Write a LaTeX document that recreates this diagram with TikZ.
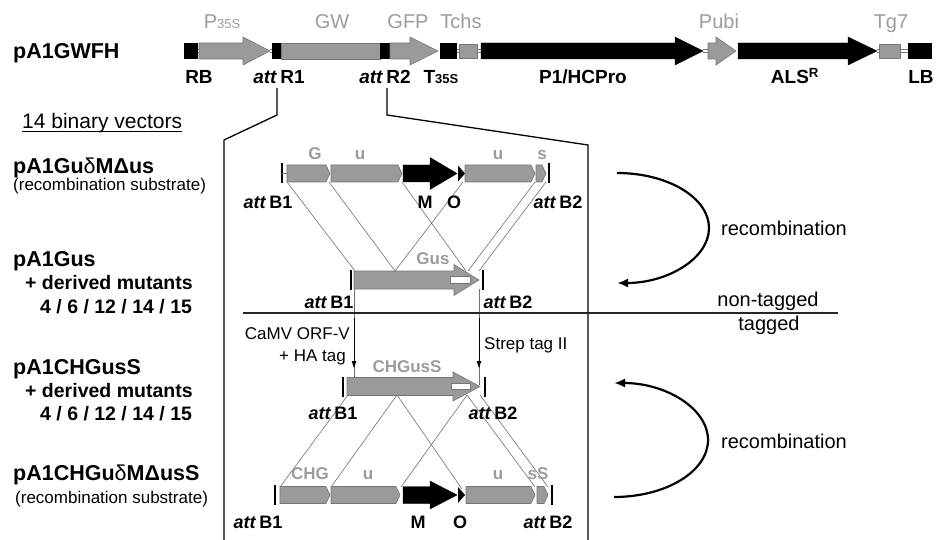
\documentclass[tikz,border=0pt]{standalone}
\usepackage{fontspec}
\setmainfont{Liberation Sans}
\usetikzlibrary{arrows.meta}
\definecolor{bargray}{HTML}{9A9A9A}
\definecolor{barline}{HTML}{767676}
\definecolor{lblgray}{HTML}{9C9C9C}
\definecolor{linegray}{HTML}{707070}
\newcommand{\fName}{\fontsize{21.5}{24}\selectfont\bfseries}
\newcommand{\fSub}{\fontsize{19.5}{22}\selectfont\bfseries}
\newcommand{\fParen}{\fontsize{17}{20}\selectfont}
\newcommand{\fTopG}{\fontsize{20}{22}\selectfont}
\newcommand{\fTopB}{\fontsize{19}{21}\selectfont\bfseries}
\newcommand{\fAtt}{\fontsize{18}{20}\selectfont\bfseries}
\newcommand{\fSegL}{\fontsize{17}{20}\selectfont\bfseries}
\newcommand{\fCap}{\fontsize{17}{20}\selectfont}
\newcommand{\fRight}{\fontsize{20}{22}\selectfont}
\newcommand{\attx}{\textit{att}\,}
\newcommand{\smallnum}[1]{{\fontsize{13}{14}\selectfont #1}}
% arrow-shaped feature: style, x1, xhead, xtip, yc, body half, head half
\newcommand{\shaft}[7]{\filldraw[#1] ({#2},{#5-#6}) -- ({#3},{#5-#6}) -- ({#3},{#5-#7}) -- ({#4},{#5}) -- ({#3},{#5+#7}) -- ({#3},{#5+#6}) -- ({#2},{#5+#6}) -- cycle;}
% segment with pointed right end: x1, x2, yc
\newcommand{\gseg}[3]{\filldraw[seg] ({#1},{#3-8.5}) -- ({#2-4},{#3-8.5}) -- ({#2},{#3}) -- ({#2-4},{#3+8.5}) -- ({#1},{#3+8.5}) -- cycle;}
% marker bar: x, yc
\newcommand{\mkr}[2]{\draw[mk] ({#1},{#2-10}) -- ({#1},{#2+10});}
% small black triangle: x, yc
\newcommand{\otri}[2]{\fill[black] ({#1},{#2-8}) -- ({#1+7},{#2}) -- ({#1},{#2+8}) -- cycle;}
% double thin link in top bar: x1, x2
\newcommand{\lnk}[2]{\draw[barline,line width=0.5pt] ({#1},49.5) -- ({#2},49.5) ({#1},52.5) -- ({#2},52.5);}
\begin{document}
\begin{tikzpicture}[x=1pt,y=-1pt,
  seg/.style={fill=bargray,draw=barline,line width=0.6pt},
  blk/.style={fill=black,draw=black,line width=0.4pt},
  mk/.style={line width=2pt,black},
  xline/.style={draw=linegray,line width=0.6pt},
  brk/.style={line width=1.3pt,black},
  recarc/.style={line width=2.2pt,black,-{Latex[length=11pt,width=9pt]}},
  tagarr/.style={line width=1pt,black,-{Latex[length=8pt,width=5pt]}},
  tg/.style={inner sep=0pt,anchor=base,font=\fTopG,text=lblgray},
  tb/.style={inner sep=0pt,anchor=base,font=\fTopB},
  nm/.style={inner sep=0pt,anchor=base west,font=\fName},
  sb/.style={inner sep=0pt,anchor=base west,font=\fSub},
  pr/.style={inner sep=0pt,anchor=base west,font=\fParen},
  attl/.style={inner sep=0pt,anchor=base,font=\fAtt},
  sl/.style={inner sep=0pt,anchor=base,font=\fSegL,text=lblgray},
  cp/.style={inner sep=0pt,font=\fCap},
  rt/.style={inner sep=0pt,anchor=base,font=\fRight}]
\useasboundingbox (0,0) rectangle (937,540);

% ---------------- top construct ----------------
\fill[black] (184,43) rectangle (198,59);
\lnk{198}{200}
\shaft{seg}{199}{243}{270}{51}{8}{14}
\lnk{270}{272}
\fill[black] (272,43) rectangle (281,59);
\filldraw[seg] (281,43) rectangle (380,59);
\fill[black] (380,43) rectangle (390,59);
\shaft{seg}{390}{410}{438}{51}{8}{14}
\fill[black] (440,43) rectangle (457,59);
\lnk{457}{459}
\filldraw[seg] (459,44) rectangle (477,58);
\lnk{477}{481}
\shaft{blk}{481}{675}{703}{51}{8}{14}
\lnk{703}{708}
\shaft{seg}{708}{716}{736}{51}{8}{14}
\shaft{blk}{738}{848}{877}{51}{8}{14}
\lnk{877}{879}
\filldraw[seg] (879,44) rectangle (900,58);
\lnk{900}{908}
\fill[black] (908,43) rectangle (932,59);

\node[tg] (tP) at (222,29) {P\smallnum{35S}};
\node[tg] (tGW) at (332,29) {GW};
\node[tg] (tGFP) at (408,29) {GFP};
\node[tg] (tT) at (461,29) {Tchs};
\node[tg] (tPu) at (719,29) {Pubi};
\node[tg] (tTg) at (891,29) {Tg7};

\node[tb] (bRB) at (199,84) {RB};
\node[tb] (bR1) at (279,84) {\attx R1};
\node[tb] (bR2) at (385,84) {\attx R2};
\node[tb] (bT) at (441,84) {T\smallnum{35S}};
\node[tb] (bP1) at (583,84) {P1/HCPro};
\node[tb] (bALS) at (795,84) {ALS\textsuperscript{R}};
\node[tb] (bLB) at (921,84) {LB};

\node[nm] (nTop) at (13,59) {pA1GWFH};

% bracket
\coordinate (bl1) at (277,88); \coordinate (bl2) at (277,115);
\coordinate (bl3) at (224,140); \coordinate (bl4) at (224,540);
\coordinate (br1) at (387,88); \coordinate (br2) at (387,115);
\coordinate (br3) at (588,145); \coordinate (br4) at (588,540);
\draw[brk] (bl1) -- (bl2) -- (bl3) -- (bl4);
\draw[brk] (br1) -- (br2) -- (br3) -- (br4);

% ---------------- left labels ----------------
\node[inner sep=0pt,anchor=base west,font=\fontsize{21}{24}\selectfont] (n14) at (22,128.5) {14 binary vectors};
\draw[line width=1pt] ([yshift=-3.5pt]n14.base west) -- ([yshift=-3.5pt]n14.base east);
\node[nm] (v1) at (13,173.5) {pA1Gu{\mdseries δ}MΔus};
\node[pr] (v1s) at (13,191) {(recombination substrate)};
\node[nm] (v2) at (13,266.5) {pA1Gus};
\node[sb] (v2a) at (25,289) {+ derived mutants};
\node[sb] (v2b) at (40,313.5) {4 / 6 / 12 / 14 / 15};
\node[nm] (v3) at (13,374.5) {pA1CHGusS};
\node[sb] (v3a) at (25,397) {+ derived mutants};
\node[sb] (v3b) at (40,420.5) {4 / 6 / 12 / 14 / 15};
\node[nm] (v4) at (13,480.5) {pA1CHGu{\mdseries δ}MΔusS};
\node[pr] (v4s) at (15,503) {(recombination substrate)};

% ---------------- crossing lines ----------------
\coordinate (p1) at (287,182); \coordinate (p2) at (329,182);
\coordinate (p3) at (402,182); \coordinate (p4) at (463,182);
\coordinate (p5) at (535,182); \coordinate (p6) at (546,182);
\coordinate (q1) at (355,271); \coordinate (q2) at (395,271);
\coordinate (q3) at (466,271); \coordinate (q5) at (468,271);
\coordinate (q6) at (479,271);
\draw[xline] (p1) -- (q1) (p2) -- (q2) (p3) -- (q3) (p4) -- (q2) (p5) -- (q5) (p6) -- (q6);

\coordinate (c1) at (348,395); \coordinate (c2) at (397,395);
\coordinate (c3) at (467,395); \coordinate (c4) at (480,395);
\coordinate (d1) at (280,487); \coordinate (d2) at (331,487);
\coordinate (d3) at (462,489); \coordinate (d4) at (401,487);
\coordinate (d5) at (535,487); \coordinate (d6) at (548,487);
\draw[xline] (c1) -- (d1) (c2) -- (d2) (c2) -- (d3) (c3) -- (d4) (c3) -- (d5) (c4) -- (d6);

% verticals Gus -> CHGusS
\coordinate (g1) at (354,289); \coordinate (g2) at (354,318); \coordinate (g3) at (354,369);
\coordinate (g4) at (354,377);
\coordinate (h1) at (479,289); \coordinate (h2) at (479,318); \coordinate (h3) at (479,369);
\coordinate (h4) at (479,385);
\draw[xline] (g1) -- (g4) (h1) -- (h4);
\draw[tagarr] (g2) -- (g3);
\draw[tagarr] (h2) -- (h3);

% ---------------- row 1 ----------------
\mkr{282}{173.5}
\draw[xline] (282,173.5) -- (287,173.5);
\gseg{287}{330}{173.5}
\gseg{331}{402}{173.5}
\shaft{blk}{403}{430}{457}{173.5}{8.5}{16}
\otri{458}{173.5}
\gseg{465}{535}{173.5}
\gseg{536}{546}{173.5}
\mkr{549}{173.5}
\node[sl] (r1G) at (315,159.5) {G};
\node[sl] (r1u) at (360,159.5) {u};
\node[sl] (r1u2) at (498,159.5) {u};
\node[sl] (r1s) at (542,159.5) {s};
\node[attl] (r1b1) at (268,208.5) {\attx B1};
\node[attl] (r1M) at (425,208.5) {M};
\node[attl] (r1O) at (454,208.5) {O};
\node[attl] (r1b2) at (558,208.5) {\attx B2};

% ---------------- row 2 (Gus) ----------------
\mkr{351}{280}
\shaft{seg}{354}{454}{479}{280}{9}{15.5}
\filldraw[fill=white,draw=barline,line width=0.5pt] (450,276.5) rectangle (470,283);
\mkr{483}{280}
\node[sl] (r2l) at (433,264) {Gus};
\node[attl] (r2b1) at (329,308.5) {\attx B1};
\node[attl] (r2b2) at (508,308.5) {\attx B2};

% separator
\coordinate (s1) at (243,313); \coordinate (s2) at (838,313);
\draw[line width=1.1pt,black!85] (s1) -- (s2);
\node[rt] (nt) at (768,306.5) {non-tagged};
\node[rt] (tt) at (769,330.5) {tagged};

\node[cp,anchor=base east] (cam1) at (350,339) {CaMV ORF-V};
\node[cp,anchor=base east] (cam2) at (346,361) {+ HA tag};
\node[cp,anchor=base west] (strep) at (484,349) {Strep tag II};

% ---------------- row 3 (CHGusS) ----------------
\mkr{343}{386.5}
\shaft{seg}{347}{453}{480}{386.5}{9}{14.5}
\filldraw[fill=white,draw=barline,line width=0.5pt] (451,383.5) rectangle (470,389.5);
\mkr{485}{386.5}
\node[sl] (r3l) at (407,372) {CHGusS};
\node[attl] (r3b1) at (333,419.5) {\attx B1};
\node[attl] (r3b2) at (493,419.5) {\attx B2};

% ---------------- row 4 ----------------
\mkr{275}{495}
\gseg{280}{330}{495}
\gseg{331}{400}{495}
\shaft{blk}{403}{430}{457}{495}{8.5}{14}
\otri{458}{495}
\gseg{466}{535}{495}
\gseg{537}{548}{495}
\mkr{552}{495}
\node[sl] (r4C) at (310,479) {CHG};
\node[sl] (r4u) at (368,479) {u};
\node[sl] (r4u2) at (498,479) {u};
\node[sl] (r4s) at (538,479) {sS};
\node[attl] (r4b1) at (258,528.5) {\attx B1};
\node[attl] (r4M) at (418,528.5) {M};
\node[attl] (r4O) at (460,528.5) {O};
\node[attl] (r4b2) at (548,528.5) {\attx B2};

% ---------------- recombination arcs ----------------
\coordinate (ra1) at (617,173);
\draw[recarc] (ra1) arc[start angle=-90,end angle=90,x radius=92,y radius=55];
\coordinate (ra2) at (614,497);
\draw[recarc] (ra2) arc[start angle=90,end angle=-90,x radius=94,y radius=57];
\node[rt] (rec1) at (784,236) {recombination};
\node[rt] (rec2) at (784,448) {recombination};
\end{tikzpicture}
\end{document}
